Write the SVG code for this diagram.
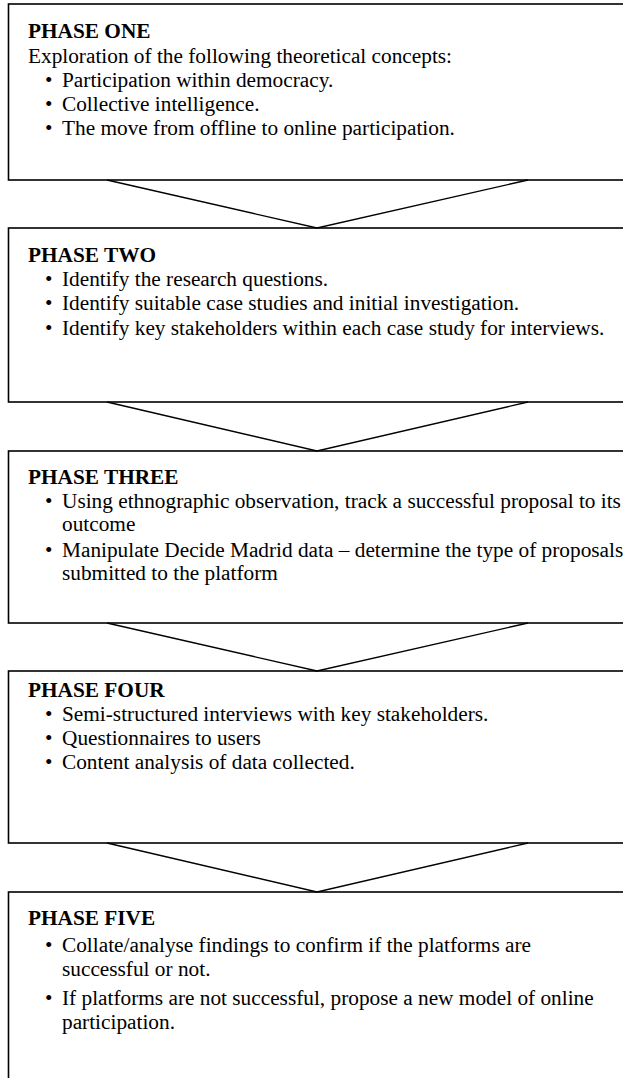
<svg xmlns="http://www.w3.org/2000/svg" width="623" height="1078" viewBox="0 0 623 1078">
<style>
.box{fill:#fff;stroke:#000;stroke-width:1.6}
.con{fill:none;stroke:#000;stroke-width:1.4;stroke-linejoin:miter}
text{font-family:"Liberation Serif","Times New Roman",serif;font-size:21.3px;fill:#000}
.h{font-weight:bold}
</style>
<rect width="623" height="1078" fill="#fff"/>
<g id="phase1">
<rect class="box" x="8.5" y="4" width="640" height="176"/>
<text class="h" x="28" y="38">PHASE ONE</text>
<text x="28" y="62.5">Exploration of the following theoretical concepts:</text>
<text x="45" y="87">•</text><text x="62" y="87">Participation within democracy.</text>
<text x="45" y="111">•</text><text x="62" y="111">Collective intelligence.</text>
<text x="45" y="135">•</text><text x="62" y="135">The move from offline to online participation.</text>
</g>
<g id="phase2">
<rect class="box" x="8.5" y="228" width="640" height="174"/>
<text class="h" x="28" y="261.5">PHASE TWO</text>
<text x="45" y="285.5">•</text><text x="62" y="285.5">Identify the research questions.</text>
<text x="45" y="310">•</text><text x="62" y="310">Identify suitable case studies and initial investigation.</text>
<text x="45" y="334.5">•</text><text x="62" y="334.5">Identify key stakeholders within each case study for interviews.</text>
</g>
<g id="phase3">
<rect class="box" x="8.5" y="451" width="640" height="172"/>
<text class="h" x="28" y="483.5">PHASE THREE</text>
<text x="45" y="507.5">•</text><text x="62" y="507.5">Using ethnographic observation, track a successful proposal to its</text>
<text x="62" y="531">outcome</text>
<text x="45" y="556.5">•</text><text x="62" y="556.5">Manipulate Decide Madrid data – determine the type of proposals</text>
<text x="62" y="580">submitted to the platform</text>
</g>
<g id="phase4">
<rect class="box" x="8.5" y="671" width="640" height="172"/>
<text class="h" x="28" y="696.5">PHASE FOUR</text>
<text x="45" y="720.5">•</text><text x="62" y="720.5">Semi-structured interviews with key stakeholders.</text>
<text x="45" y="745">•</text><text x="62" y="745">Questionnaires to users</text>
<text x="45" y="769">•</text><text x="62" y="769">Content analysis of data collected.</text>
</g>
<g id="phase5">
<rect class="box" x="8.5" y="892" width="640" height="200"/>
<text class="h" x="28" y="925">PHASE FIVE</text>
<text x="45" y="952">•</text><text x="62" y="952">Collate/analyse findings to confirm if the platforms are</text>
<text x="62" y="976">successful or not.</text>
<text x="45" y="1005">•</text><text x="62" y="1005">If platforms are not successful, propose a new model of online</text>
<text x="62" y="1029">participation.</text>
</g>
<g id="connectors">
<polyline class="con" points="107,180 317,228 528,180"/>
<polyline class="con" points="107,402 317,451 528,402"/>
<polyline class="con" points="107,623 317,671 528,623"/>
<polyline class="con" points="107,843 317,892 528,843"/>
</g>
</svg>
